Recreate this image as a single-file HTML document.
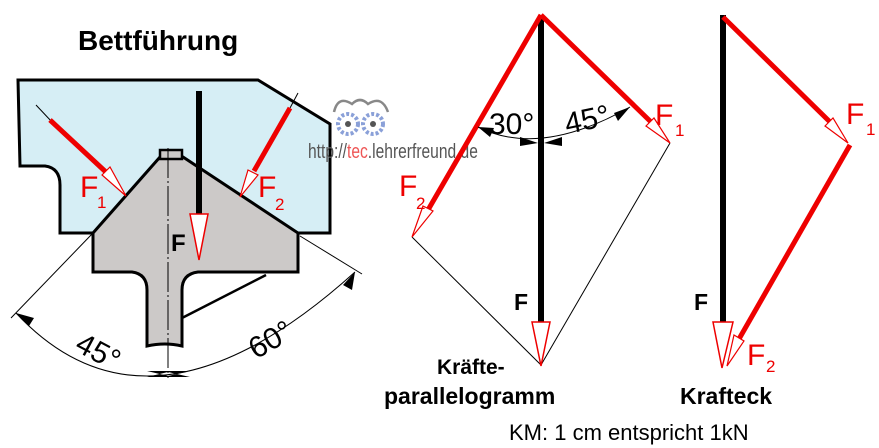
<!DOCTYPE html>
<html><head><meta charset="utf-8"><style>
html,body{margin:0;padding:0;background:#fff}
svg{display:block}
text{font-family:"Liberation Sans",Arial,sans-serif}
</style></head><body>
<svg width="879" height="448" viewBox="0 0 879 448">
<!-- Left section -->
<text x="78" y="50" font-size="28" font-weight="bold" fill="#000">Bettführung</text>
<path d="M18,80 L258,80 L330,124 L330,233 L300,233 L93,233 L60,233 L60,185 Q60,168 45,166 L20,166 Z" fill="#d6eef5" stroke="#000" stroke-width="3"/>
<path d="M93,233 L160,157 L183,157 L298,233 L298,272 L198,272 Q182,274 182,290 L182,346 Q165,342 147,346 L147,290 Q147,274 132,272 L93,272 Z" fill="#ccc9c8" stroke="#000" stroke-width="3"/>
<rect x="160" y="150" width="22" height="9" fill="#ccc9c8" stroke="#000" stroke-width="2.5"/>
<line x1="168" y1="148" x2="168" y2="378" stroke="#000" stroke-width="1" stroke-dasharray="30,3,2,3"/>
<line x1="182" y1="318" x2="266" y2="275" stroke="#000" stroke-width="2.5"/>
<line x1="92" y1="234" x2="11" y2="318" stroke="#000" stroke-width="1"/>
<line x1="300" y1="236" x2="362" y2="274" stroke="#000" stroke-width="1"/>
<path d="M16,313 Q150,457 355,272" fill="none" stroke="#000" stroke-width="1"/>
<path d="M16,313 L34,318 L29,326 Z" fill="#000"/>
<path d="M355,272 L352,290 L343,285 Z" fill="#000"/>
<path d="M147,371 L190,371 L168,376 Z M147,377 L190,377 L168,372 Z" fill="#000"/>
<text x="76" y="360" font-size="30" transform="rotate(28 95 350)">45°</text>
<text x="248" y="350" font-size="30" transform="rotate(-30 270 340)">60°</text>
<!-- F -->
<rect x="196" y="91" width="6" height="124" fill="#000"/>
<path d="M190,214 L208,214 L199,260 Z" fill="#fff" stroke="#e00" stroke-width="1.5"/>
<text x="171" y="251" font-size="24" font-weight="bold">F</text>
<!-- F1 -->
<line x1="36" y1="105" x2="52" y2="122" stroke="#000" stroke-width="1"/>
<line x1="50" y1="120" x2="108" y2="174" stroke="#e00" stroke-width="5"/>
<path d="M102,175 L110,167 L126,196 Z" fill="#fff" stroke="#e00" stroke-width="1.2"/>
<text x="80" y="197" font-size="30" fill="#e00">F</text>
<text x="97" y="208" font-size="17" fill="#e00">1</text>
<!-- F2 -->
<line x1="298" y1="93" x2="290" y2="108" stroke="#000" stroke-width="1"/>
<line x1="290" y1="108" x2="254" y2="171" stroke="#e00" stroke-width="5"/>
<path d="M248,170 L258,175 L240,197 Z" fill="#fff" stroke="#e00" stroke-width="1.2"/>
<text x="258" y="197" font-size="30" fill="#e00">F</text>
<text x="275" y="210" font-size="17" fill="#e00">2</text>
<!-- logo -->
<g fill="none" stroke="#8aa0d8" stroke-width="4" stroke-dasharray="3,2">
<circle cx="348" cy="124" r="10"/><circle cx="373" cy="124" r="10"/>
</g>
<path d="M334,112 Q338,95 352,104 Q360,96 368,104 Q382,95 388,112" fill="none" stroke="#888" stroke-width="2.5"/>
<circle cx="348" cy="124" r="3" fill="#555"/><circle cx="373" cy="124" r="3" fill="#555"/>
<text x="0" y="158" font-size="20" fill="#555" transform="translate(308 0) scale(0.78 1)">http://<tspan fill="#e55">tec</tspan>.lehrerfreund.de</text>
<!-- Parallelogram -->
<line x1="670" y1="143" x2="541" y2="365" stroke="#000" stroke-width="1"/>
<line x1="412" y1="237" x2="541" y2="365" stroke="#000" stroke-width="1"/>
<rect x="538" y="15" width="6" height="308" fill="#000"/>
<path d="M532,322 L550,322 L541,366 Z" fill="#fff" stroke="#e00" stroke-width="1.5"/>
<text x="514" y="310" font-size="23" font-weight="bold">F</text>
<line x1="541" y1="15" x2="651" y2="122" stroke="#e00" stroke-width="5"/>
<path d="M646,126 L654,118 L670,143 Z" fill="#fff" stroke="#e00" stroke-width="1.2"/>
<text x="655" y="125" font-size="30" fill="#e00">F</text>
<text x="675" y="136" font-size="17" fill="#e00">1</text>
<line x1="541" y1="15" x2="428" y2="210" stroke="#e00" stroke-width="5"/>
<path d="M423,206 L433,211 L412,237 Z" fill="#fff" stroke="#e00" stroke-width="1.2"/>
<text x="399" y="196" font-size="30" fill="#e00">F</text>
<text x="416" y="209" font-size="17" fill="#e00">2</text>
<path d="M478,127 Q540,158 630,107" fill="none" stroke="#000" stroke-width="1"/>
<path d="M478,127 L494,128 L490,137 Z M538,143 L520,137 L520,146 Z M544,143 L562,137 L562,146 Z M630,107 L618,121 L614,113 Z" fill="#000"/>
<text x="489" y="134" font-size="30">30°</text>
<text x="564" y="130" font-size="30" transform="rotate(-12 585 118)">45°</text>
<text x="437" y="374" font-size="21" font-weight="bold">Kräfte-</text>
<text x="384" y="404" font-size="23" font-weight="bold">parallelogramm</text>
<!-- Krafteck -->
<rect x="720" y="15" width="6" height="308" fill="#000"/>
<path d="M713,322 L733,322 L722,368 Z" fill="#fff" stroke="#e00" stroke-width="1.5"/>
<text x="694" y="310" font-size="23" font-weight="bold">F</text>
<line x1="723" y1="17" x2="830" y2="122" stroke="#e00" stroke-width="5"/>
<path d="M825,126 L833,118 L848,143 Z" fill="#fff" stroke="#e00" stroke-width="1.2"/>
<text x="846" y="124" font-size="30" fill="#e00">F</text>
<text x="866" y="135" font-size="17" fill="#e00">1</text>
<line x1="850" y1="145" x2="739" y2="339" stroke="#e00" stroke-width="5"/>
<path d="M734,335 L744,341 L727,366 Z" fill="#fff" stroke="#e00" stroke-width="1.2"/>
<text x="747" y="365" font-size="30" fill="#e00">F</text>
<text x="766" y="372" font-size="17" fill="#e00">2</text>
<text x="680" y="404" font-size="23" font-weight="bold">Krafteck</text>
<text x="509" y="440" font-size="22">KM: 1 cm entspricht 1kN</text>
</svg>
</body></html>
